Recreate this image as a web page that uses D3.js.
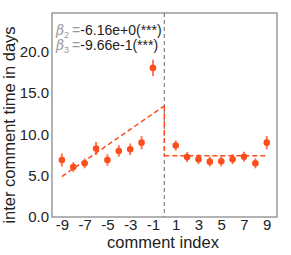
<!DOCTYPE html>
<html>
<head>
<meta charset="utf-8">
<script src="https://cdn.jsdelivr.net/npm/d3@7"></script>
<style>
  body { margin: 0; background: #fff; }
  text { font-family: "Liberation Sans", Arial, sans-serif; }
</style>
</head>
<body>
<div id="chart"></div>
<script>
const idxBefore = [-9, -8, -7, -6, -5, -4, -3, -2, -1];
const valBefore = [6.9, 6.05, 6.5, 8.3, 6.9, 8.0, 8.2, 9.0, 18.05];
const errBefore = [0.8, 0.6, 0.6, 0.8, 0.7, 0.7, 0.7, 0.8, 1.0];
const idxAfter = [1, 2, 3, 4, 5, 6, 7, 8, 9];
const valAfter = [8.65, 7.25, 7.0, 6.7, 6.75, 7.0, 7.3, 6.5, 9.0];
const errAfter = [0.6, 0.6, 0.6, 0.6, 0.6, 0.6, 0.6, 0.6, 0.8];
const fitBefore = [[-9, 4.9], [0, 13.45]];
const fitAfter = [[0, 7.43], [9, 7.43]];
const yTicks = [0, 5, 10, 15, 20];
const xTicks = [-9, -7, -5, -3, -1, 1, 3, 5, 7, 9];
const notes = [
  { sym: "β", sub: "2", val: "-6.16e+0", sig: "***" },
  { sym: "β", sub: "3", val: "-9.66e-1", sig: "***" }
];

const W = 291, H = 255;
const margin = { top: 13, right: 14, bottom: 38, left: 52 };
const red = "#fc4e1c";

const svg = d3.select("#chart").append("svg")
  .attr("width", W).attr("height", H);

const x = d3.scaleLinear().domain([-9.87, 9.9]).range([margin.left, W - margin.right]);
const y = d3.scaleLinear().domain([0, 24.7]).range([H - margin.bottom, margin.top]);

// frame
svg.append("rect")
  .attr("x", x.range()[0]).attr("y", y.range()[1])
  .attr("width", x.range()[1] - x.range()[0])
  .attr("height", y.range()[0] - y.range()[1])
  .attr("fill", "none").attr("stroke", "#808080").attr("stroke-width", 1.2);

// axes (no tick marks)
const xAxis = svg.append("g")
  .attr("transform", `translate(0,${y.range()[0]})`)
  .call(d3.axisBottom(x).tickValues(xTicks).tickSize(0).tickPadding(2.5).tickFormat(d => d < 0 ? "-" + Math.abs(d) : d));
const yAxis = svg.append("g")
  .attr("transform", `translate(${x.range()[0]},0)`)
  .call(d3.axisLeft(y).tickValues(yTicks).tickSize(0).tickPadding(3).tickFormat(d3.format(".1f")));
[xAxis, yAxis].forEach(g => {
  g.select(".domain").remove();
  g.selectAll("text").attr("font-size", 15).attr("fill", "#222")
    .style("font-family", "'Liberation Sans', Arial, sans-serif");
});

// vertical gray dashed line at 0
svg.append("line")
  .attr("x1", x(0)).attr("x2", x(0))
  .attr("y1", y.range()[1]).attr("y2", y.range()[0])
  .attr("stroke", "#808080").attr("stroke-width", 1.2).attr("stroke-dasharray", "4,3");

// fit lines
const line = d3.line().x(d => x(d[0])).y(d => y(d[1]));
svg.append("path").attr("d", line(fitBefore))
  .attr("fill", "none").attr("stroke", red).attr("stroke-width", 1.5).attr("stroke-dasharray", "5,3");
svg.append("path").attr("d", line(fitAfter))
  .attr("fill", "none").attr("stroke", red).attr("stroke-width", 1.5).attr("stroke-dasharray", "5,3");
svg.append("line")
  .attr("x1", x(0)).attr("x2", x(0))
  .attr("y1", y(fitBefore[1][1])).attr("y2", y(fitAfter[0][1]))
  .attr("stroke", red).attr("stroke-width", 1.5).attr("stroke-dasharray", "5,3");

// points with error bars
const pts = idxBefore.map((d, i) => ({ x: d, v: valBefore[i], e: errBefore[i] }))
  .concat(idxAfter.map((d, i) => ({ x: d, v: valAfter[i], e: errAfter[i] })));

svg.append("g").selectAll("line").data(pts).join("line")
  .attr("x1", d => x(d.x)).attr("x2", d => x(d.x))
  .attr("y1", d => y(d.v - d.e)).attr("y2", d => y(d.v + d.e))
  .attr("stroke", red).attr("stroke-opacity", 0.75).attr("stroke-width", 2);

svg.append("g").selectAll("circle").data(pts).join("circle")
  .attr("cx", d => x(d.x)).attr("cy", d => y(d.v))
  .attr("r", 3.3).attr("fill", red);

// annotation
const ann = svg.append("g");
notes.forEach((n, i) => {
  const t = ann.append("text")
    .attr("x", 56).attr("y", 35 + i * 15)
    .attr("font-size", 14).attr("fill", "#222");
  t.append("tspan").text(n.sym).attr("fill", "#999").attr("font-style", "italic")
    .style("font-family", "'DejaVu Serif', serif");
  t.append("tspan").text(n.sub).attr("fill", "#999").attr("font-size", 9).attr("dy", 3);
  t.append("tspan").text("=").attr("fill", "#999").attr("dy", -3).attr("dx", 3);
  t.append("tspan").text(n.val + "(");
  t.append("tspan").text(n.sig);
  t.append("tspan").text(")");
});

// axis labels
svg.append("text")
  .attr("x", 163).attr("y", 248)
  .attr("text-anchor", "middle").attr("font-size", 16.5).attr("fill", "#222")
  .text("comment index");
svg.append("text")
  .attr("transform", `translate(15,125) rotate(-90)`)
  .attr("text-anchor", "middle").attr("font-size", 16.5).attr("fill", "#222")
  .text("inter comment time in days");
</script>
</body>
</html>
